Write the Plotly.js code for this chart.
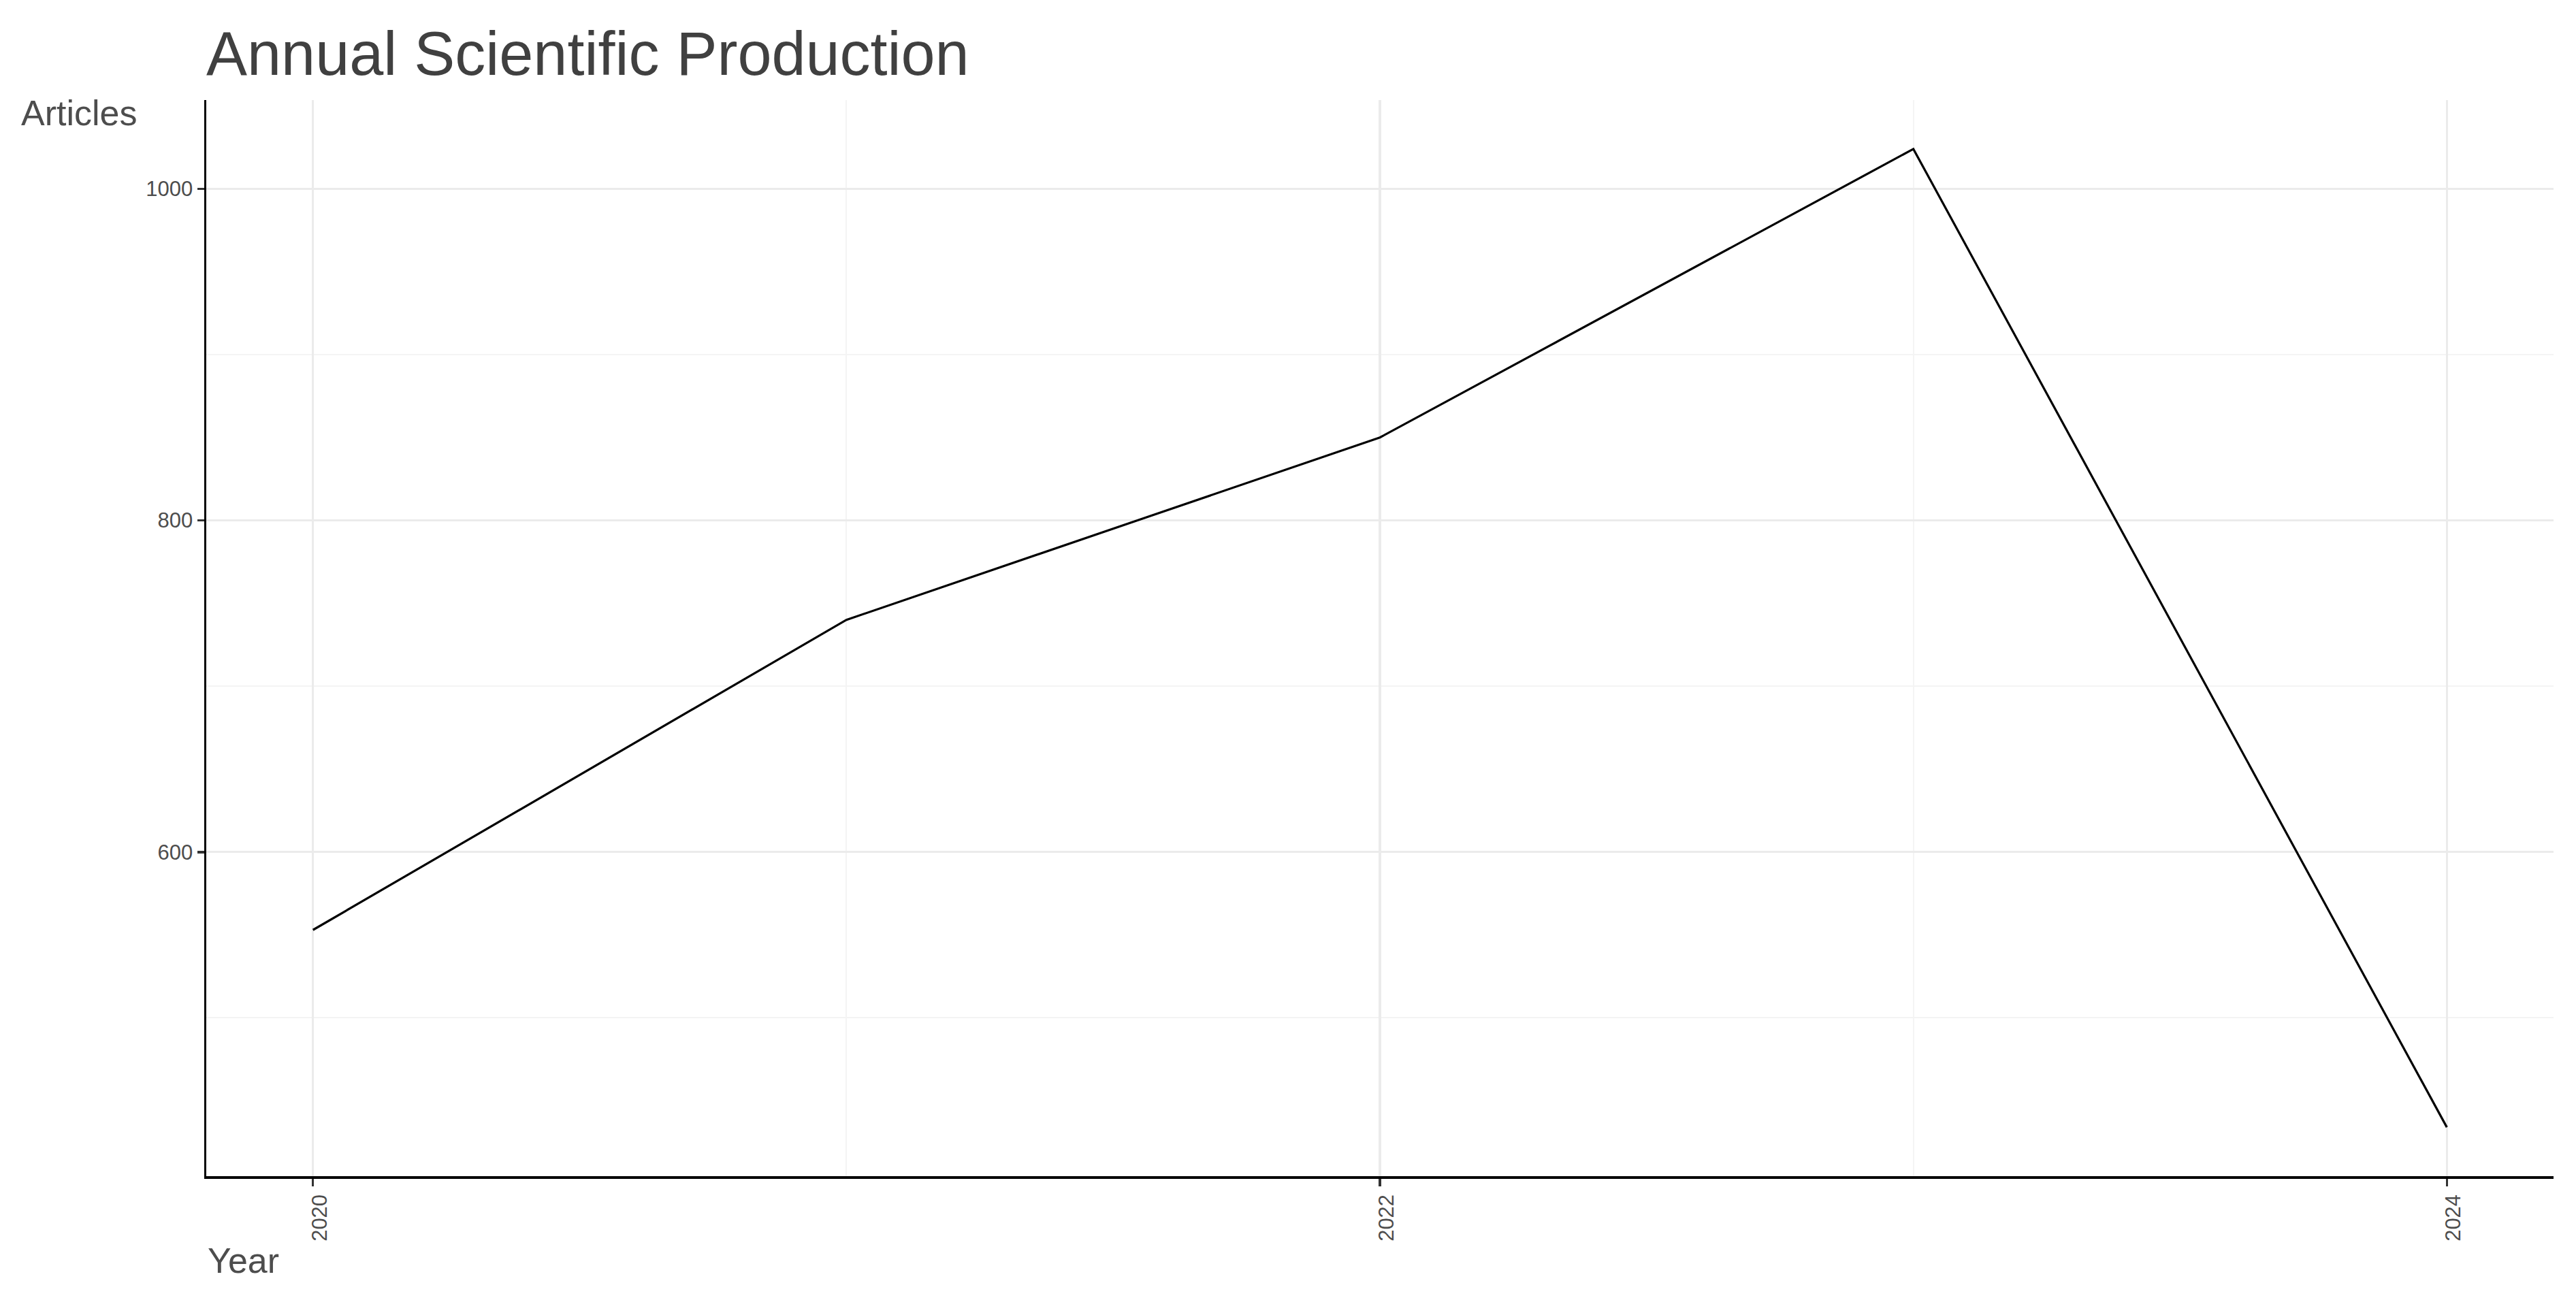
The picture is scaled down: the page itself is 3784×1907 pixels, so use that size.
<!DOCTYPE html>
<html>
<head>
<meta charset="utf-8">
<script src="https://cdn.plot.ly/plotly-3.0.1.min.js"></script>
<style>html,body{margin:0;padding:0;background:#fff;}#chart{width:3784px;height:1907px;}</style>
</head>
<body>
<div id="chart"></div>
<script>
const years = [2020, 2021, 2022, 2023, 2024];
const articles = [553, 740, 850, 1024, 434];
const xTickVals = [2020, 2022, 2024];
const xTickText = ["2020", "2022", "2024"];
const yTickVals = [600, 800, 1000];
const yTickText = ["600", "800", "1000"];

const FONT = "Liberation Sans, Arial, Helvetica, sans-serif";

const trace = {
  x: years,
  y: articles,
  type: "scatter",
  mode: "lines",
  line: {color: "#000000", width: 3.2},
  hoverinfo: "skip",
  showlegend: false
};

const layout = {
  width: 3784,
  height: 1907,
  paper_bgcolor: "#ffffff",
  plot_bgcolor: "#ffffff",
  margin: {l: 303, r: 33, t: 147, b: 179, pad: 0},
  font: {family: FONT, color: "#4d4d4d"},
  title: {
    text: "Annual Scientific Production",
    font: {family: FONT, size: 90, color: "#404040"},
    xref: "paper", x: 0, xanchor: "left",
    yref: "container", y: 1 - 78 / 1907, yanchor: "middle",
    pad: {l: 0, r: 0, t: 0, b: 0}
  },
  xaxis: {
    range: [2019.8, 2024.2],
    tickmode: "array",
    tickvals: xTickVals,
    ticktext: xTickText,
    tickangle: -90,
    ticklabelshift: 10,
    tickfont: {family: FONT, size: 31, color: "#4d4d4d"},
    ticks: "outside", ticklen: 11, tickwidth: 3.5, tickcolor: "#333333",
    showline: true, linecolor: "#000000", linewidth: 3.5, mirror: false,
    showgrid: true, gridcolor: "#ebebeb", gridwidth: 3.5,
    minor: {dtick: 1, tick0: 2020, showgrid: true, gridcolor: "#f4f4f4", gridwidth: 2, ticks: ""},
    zeroline: false, fixedrange: true
  },
  yaxis: {
    range: [404.5, 1053.5],
    tickmode: "array",
    tickvals: yTickVals,
    ticktext: yTickText,
    tickfont: {family: FONT, size: 31, color: "#4d4d4d"},
    ticks: "outside", ticklen: 10, tickwidth: 3.5, tickcolor: "#333333",
    showline: true, linecolor: "#000000", linewidth: 3.5, mirror: false,
    showgrid: true, gridcolor: "#ebebeb", gridwidth: 3,
    minor: {dtick: 100, tick0: 0, showgrid: true, gridcolor: "#f4f4f4", gridwidth: 2, ticks: ""},
    zeroline: false, fixedrange: true
  },
  annotations: [
    {
      text: "Articles", showarrow: false,
      xref: "paper", yref: "paper",
      x: (29 - 303) / 3448, xanchor: "left",
      y: 1 - (166 - 147) / 1581, yanchor: "middle",
      font: {family: FONT, size: 52, color: "#4d4d4d"}
    },
    {
      text: "Year", showarrow: false,
      xref: "paper", yref: "paper",
      x: 0.0, xanchor: "left",
      y: -(1852 - 1728) / 1581, yanchor: "middle",
      font: {family: FONT, size: 52, color: "#4d4d4d"}
    }
  ],
  hovermode: false,
  showlegend: false
};

Plotly.newPlot("chart", [trace], layout, {displayModeBar: false, staticPlot: true});
</script>
</body>
</html>
